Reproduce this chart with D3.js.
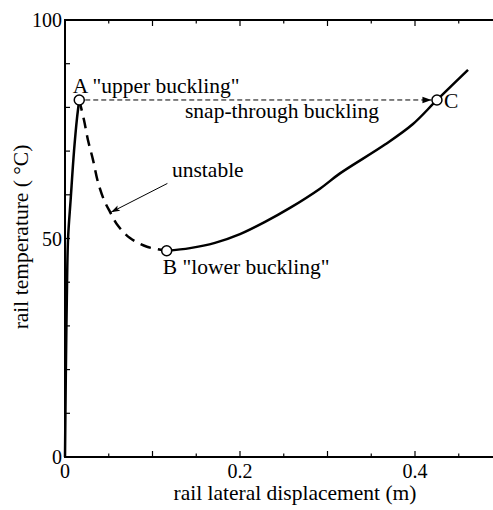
<!DOCTYPE html>
<html>
<head>
<meta charset="utf-8">
<script src="https://cdn.jsdelivr.net/npm/d3@7/dist/d3.min.js"></script>
<style>
  html, body { margin: 0; padding: 0; background: #fff; }
  svg { display: block; }
  text { font-family: "Liberation Serif", "Times New Roman", serif; fill: #000; }
</style>
</head>
<body>
<script>
// Rail lateral displacement (m) vs rail temperature (°C) — buckling path

// Stable branch from the straight track up to the upper buckling point A
const riseX = [0, 0.001, 0.002, 0.0035, 0.0065, 0.0103, 0.0137, 0.0163];
const riseY = [0, 20, 35, 50, 59, 70, 77.5, 81.7];

// Unstable (post-buckling) branch from A down to the lower buckling point B
const unstableX = [0.0163, 0.0217, 0.0263, 0.032, 0.0377, 0.0446, 0.0514, 0.0606, 0.0743, 0.0937, 0.1162];
const unstableY = [81.7, 77.1, 72.5, 68.0, 62.9, 58.8, 56.1, 52.9, 50.1, 48.1, 47.2];

// Stable large-displacement branch from B through C and beyond
const bucklingX = [0.1162, 0.1429, 0.1714, 0.2, 0.2286, 0.2571, 0.2914, 0.3143, 0.3657, 0.3977, 0.4251, 0.4606];
const bucklingY = [47.2, 47.8, 49.0, 51.0, 53.8, 57.0, 61.4, 64.9, 71.5, 76.2, 81.7, 88.6];

// Labelled points
const pointNames = ["A", "B", "C"];
const pointX = [0.0163, 0.1162, 0.4251];
const pointY = [81.7, 47.2, 81.7];

// Axis ticks
const xTickLabels = [0, 0.2, 0.4];
const yTickLabels = [0, 50, 100];

// Arrow pointing at the unstable branch (tail, tip) in data units
const unstableArrowX = [0.117, 0.0525];
const unstableArrowY = [62.6, 56.0];

const W = 493, H = 510;
const svg = d3.select("body").append("svg").attr("width", W).attr("height", H);

const x = d3.scaleLinear().domain([0, 0.5]).range([65, 502.5]);
const y = d3.scaleLinear().domain([0, 100]).range([457, 20]);

const defs = svg.append("defs");
defs.append("marker")
  .attr("id", "headSnap").attr("viewBox", "-9 -4 10 8")
  .attr("refX", 0).attr("refY", 0)
  .attr("markerWidth", 10).attr("markerHeight", 8)
  .attr("markerUnits", "userSpaceOnUse").attr("orient", "auto")
  .append("path").attr("d", "M0,0L-9,-3.2L-9,3.2Z").attr("fill", "#000");
defs.append("marker")
  .attr("id", "headUnstable").attr("viewBox", "-10 -4 11 8")
  .attr("refX", 0).attr("refY", 0)
  .attr("markerWidth", 11).attr("markerHeight", 8)
  .attr("markerUnits", "userSpaceOnUse").attr("orient", "auto")
  .append("path").attr("d", "M0,0L-9,-3L-7,0L-9,3Z").attr("fill", "#000");

// Axes: inward ticks, minor every 0.05 / 10 °C
const xMinor = d3.range(0, 0.5001, 0.05);
const yMinor = d3.range(0, 100.001, 10);
const frame = svg.append("g").attr("stroke", "#000").attr("fill", "none");

frame.append("path")
  .attr("d", `M${x.range()[1]},${y(100)}H${x(0)}V${y(0)}H${x.range()[1]}`)
  .attr("stroke-width", 2);

xMinor.forEach((v, i) => {
  const len = i % 2 === 0 ? 6 : 3.5;
  frame.append("line").attr("x1", x(v)).attr("x2", x(v))
    .attr("y1", y(0)).attr("y2", y(0) - len).attr("stroke-width", 1.2);
  frame.append("line").attr("x1", x(v)).attr("x2", x(v))
    .attr("y1", y(100)).attr("y2", y(100) + len).attr("stroke-width", 1.2);
});
yMinor.forEach(v => {
  frame.append("line").attr("x1", x(0)).attr("x2", x(0) + 5)
    .attr("y1", y(v)).attr("y2", y(v)).attr("stroke-width", 1.2);
});

svg.append("g").selectAll("text").data(xTickLabels).join("text")
  .attr("x", d => x(d)).attr("y", y(0) + 21)
  .attr("text-anchor", "middle").attr("font-size", 20)
  .text(d => d === 0 ? "0" : d3.format(".1f")(d));
svg.append("g").selectAll("text").data(yTickLabels).join("text")
  .attr("x", x(0) - 3).attr("y", d => y(d) + 7)
  .attr("text-anchor", "end").attr("font-size", 20)
  .text(d => d);

svg.append("text")
  .attr("x", 295).attr("y", 500).attr("text-anchor", "middle")
  .attr("font-size", 21.5).text("rail lateral displacement (m)");
svg.append("text")
  .attr("transform", "translate(28,237) rotate(-90)")
  .attr("text-anchor", "middle").attr("font-size", 21.5)
  .text("rail temperature ( °C)");

// Curves
const line = d3.line().x(d => x(d[0])).y(d => y(d[1])).curve(d3.curveCatmullRom.alpha(0.5));
const zip = (a, b) => a.map((v, i) => [v, b[i]]);

svg.append("path").datum(zip(riseX, riseY)).attr("d", line)
  .attr("fill", "none").attr("stroke", "#000").attr("stroke-width", 2.5);
svg.append("path").datum(zip(unstableX, unstableY)).attr("d", line)
  .attr("fill", "none").attr("stroke", "#000").attr("stroke-width", 2.5)
  .attr("stroke-dasharray", "11,7");
svg.append("path").datum(zip(bucklingX, bucklingY)).attr("d", line)
  .attr("fill", "none").attr("stroke", "#000").attr("stroke-width", 2.5);

// Snap-through jump from A to C
const r = 5;
svg.append("line")
  .attr("x1", x(pointX[0]) + r + 1).attr("y1", y(pointY[0]))
  .attr("x2", x(pointX[2]) - r - 0.5).attr("y2", y(pointY[2]))
  .attr("stroke", "#000").attr("stroke-width", 1)
  .attr("stroke-dasharray", "5,3")
  .attr("marker-end", "url(#headSnap)");

// Arrow to the unstable branch
svg.append("line")
  .attr("x1", x(unstableArrowX[0])).attr("y1", y(unstableArrowY[0]))
  .attr("x2", x(unstableArrowX[1])).attr("y2", y(unstableArrowY[1]))
  .attr("stroke", "#000").attr("stroke-width", 1)
  .attr("marker-end", "url(#headUnstable)");

// Points A, B, C
svg.append("g").selectAll("circle").data(pointNames).join("circle")
  .attr("cx", (d, i) => x(pointX[i])).attr("cy", (d, i) => y(pointY[i]))
  .attr("r", r).attr("fill", "#fff").attr("stroke", "#000").attr("stroke-width", 1.5);

// Annotations
const ann = svg.append("g").attr("font-size", 21.5);
ann.append("text").attr("x", x(pointX[0]) - 6.5).attr("y", y(pointY[0]) - 7)
  .text('A "upper buckling"');
ann.append("text").attr("x", x(pointX[1]) - 4).attr("y", y(pointY[1]) + 23)
  .text('B "lower buckling"');
ann.append("text").attr("x", x(pointX[2]) + 7).attr("y", y(pointY[2]) + 8)
  .text("C");
ann.append("text").attr("x", 185).attr("y", 118).text("snap-through buckling");
ann.append("text").attr("x", 172).attr("y", 177).text("unstable");
</script>
</body>
</html>
